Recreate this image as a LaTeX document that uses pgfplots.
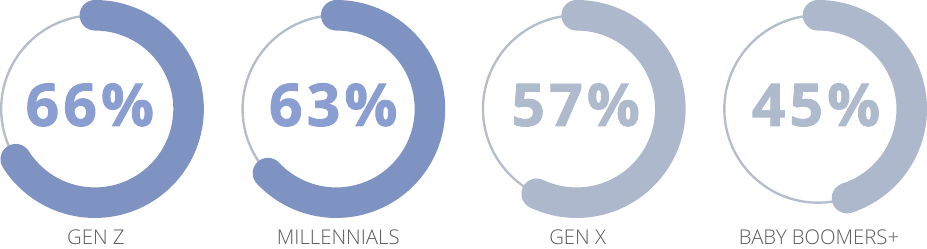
\documentclass[border=0pt]{standalone}
\usepackage{pgfplots}
\pgfplotsset{compat=1.18}
\usepackage{fontspec}
\setmainfont{Open Sans}
\newfontfamily\lightfont{Open Sans}[UprightFont={* Light}]
\newfontfamily\heavyfont{Open Sans Bold}[FakeBold=1.4, LetterSpace=7]
\definecolor{arcblue}{HTML}{7F93C3}
\definecolor{txtblue}{HTML}{8A9ED2}
\definecolor{arcgray}{HTML}{ADB8CC}
\definecolor{txtgray}{HTML}{AFBACD}
\definecolor{ring}{HTML}{B4BDCC}
\definecolor{lbl}{HTML}{5A5A5A}
\begin{document}
\begin{tikzpicture}
\begin{axis}[
  width=927bp, height=267bp, scale only axis,
  xmin=0, xmax=927, ymin=0, ymax=267, y dir=reverse,
  hide axis, clip=false,
  samples=150,
]
% ring radius 92, centre y 110
% GEN Z 66%
\addplot[ring, line width=2.3bp, domain=0:100] ({96+92*cos(90-3.6*x)}, {110-92*sin(90-3.6*x)});
\addplot[arcblue, line width=30bp, line cap=round, domain=0:66] ({96+92*cos(90-3.6*x)}, {110-92*sin(90-3.6*x)});
% MILLENNIALS 63%
\addplot[ring, line width=2.3bp, domain=0:100] ({333+92*cos(90-3.6*x)}, {110-92*sin(90-3.6*x)});
\addplot[arcblue, line width=30bp, line cap=round, domain=0:63] ({333+92*cos(90-3.6*x)}, {110-92*sin(90-3.6*x)});
% GEN X 57%
\addplot[ring, line width=2.3bp, domain=0:100] ({569+92*cos(90-3.6*x)}, {110-92*sin(90-3.6*x)});
\addplot[arcgray, line width=30bp, line cap=round, domain=0:57] ({569+92*cos(90-3.6*x)}, {110-92*sin(90-3.6*x)});
% BABY BOOMERS+ 45%
\addplot[ring, line width=2.3bp, domain=0:100] ({806+92*cos(90-3.6*x)}, {110-92*sin(90-3.6*x)});
\addplot[arcgray, line width=30bp, line cap=round, domain=0:45] ({806+92*cos(90-3.6*x)}, {110-92*sin(90-3.6*x)});

\node[txtblue, font=\fontsize{58}{60}\selectfont\heavyfont] at (axis cs:91,106) {66\%};
\node[txtblue, font=\fontsize{58}{60}\selectfont\heavyfont] at (axis cs:330,106) {63\%};
\node[txtgray, font=\fontsize{58}{60}\selectfont\heavyfont] at (axis cs:568,106) {57\%};
\node[txtgray, font=\fontsize{58}{60}\selectfont\heavyfont] at (axis cs:804,106) {45\%};

\node[lbl, font=\fontsize{20}{22}\selectfont\lightfont] at (axis cs:97,236) {GEN Z};
\node[lbl, font=\fontsize{20}{22}\selectfont\lightfont] at (axis cs:335,236) {MILLENNIALS};
\node[lbl, font=\fontsize{20}{22}\selectfont\lightfont] at (axis cs:570,236) {GEN X};
\node[lbl, font=\fontsize{20}{22}\selectfont\lightfont] at (axis cs:807,236) {BABY BOOMERS+};
\end{axis}
\end{tikzpicture}
\end{document}
